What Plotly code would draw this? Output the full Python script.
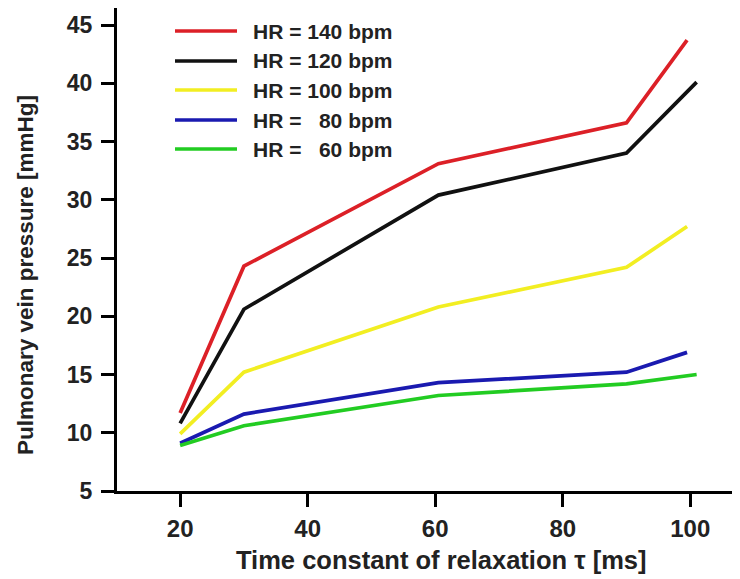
import plotly.graph_objects as go

# Data
tau_140 = [20, 30, 60.5, 90, 99.5]
hr140 = [11.7, 24.3, 33.1, 36.6, 43.7]
tau_120 = [20, 30, 60.5, 90, 101]
hr120 = [10.8, 20.6, 30.4, 34.0, 40.1]
tau_100 = [20, 30, 60.5, 90, 99.5]
hr100 = [9.9, 15.2, 20.8, 24.2, 27.7]
tau_80 = [20, 30, 60.5, 90, 99.5]
hr80 = [9.1, 11.6, 14.3, 15.2, 16.9]
tau_60 = [20, 30, 60.5, 90, 101]
hr60 = [8.9, 10.6, 13.2, 14.2, 15.0]

labels = ["HR = 140 bpm", "HR = 120 bpm", "HR = 100 bpm", "HR = \u200780 bpm", "HR = \u200760 bpm"]
colors = ["#dc2027", "#111111", "#f2ee22", "#1a1ab0", "#22cc22"]
xs = [tau_140, tau_120, tau_100, tau_80, tau_60]
ys = [hr140, hr120, hr100, hr80, hr60]

x_ticks = [20, 40, 60, 80, 100]
y_ticks = [5, 10, 15, 20, 25, 30, 35, 40, 45]
x_title = "Time constant of relaxation τ [ms]"
y_title = "Pulmonary vein pressure [mmHg]"

FONT = "Liberation Sans, Arial, sans-serif"
TXT = "#222222"

fig = go.Figure()
for x, y, c, name in zip(xs, ys, colors, labels):
    fig.add_trace(go.Scatter(x=x, y=y, mode="lines", name=name,
                             line=dict(color=c, width=3.7)))

# figure is offset by the page's 8px body margin
OFF = 8
W, H = 740 - OFF, 579 - OFF
l, r, t, b = 117 - OFF, 0, 0, 88
pw, ph = W - l - r, H - t - b


def px_x(page_x):
    return (page_x - OFF - l) / pw


def px_y(page_y):
    return 1 - (page_y - OFF - t) / ph


# Manual legend (paper coordinates)
leg_y = [31, 61, 90, 120, 149]
for yy, c, name in zip(leg_y, colors, labels):
    yp = px_y(yy)
    fig.add_shape(type="line", xref="paper", yref="paper",
                  x0=px_x(175), x1=px_x(237), y0=yp, y1=yp,
                  line=dict(color=c, width=3.7))
    fig.add_annotation(xref="paper", yref="paper", x=px_x(251), y=yp,
                       text=name, showarrow=False, xanchor="left", yanchor="middle",
                       font=dict(family=FONT, size=21, color=TXT, weight="bold"))

# Axis titles as annotations (positioned as in the reference)
fig.add_annotation(xref="paper", yref="paper", x=px_x(441), y=px_y(560),
                   text=x_title, showarrow=False, xanchor="center", yanchor="middle",
                   font=dict(family=FONT, size=25.5, color=TXT, weight="bold"))
fig.add_annotation(xref="paper", yref="paper", x=px_x(25), y=px_y(275),
                   text=y_title, showarrow=False, xanchor="center", yanchor="middle",
                   textangle=-90,
                   font=dict(family=FONT, size=22.5, color=TXT, weight="bold"))

fig.update_layout(
    width=W, height=H,
    margin=dict(l=l, r=r, t=t, b=b),
    paper_bgcolor="white", plot_bgcolor="white",
    showlegend=False,
    font=dict(family=FONT, color=TXT, weight="bold"),
)
fig.update_xaxes(
    range=[10.1, 107.8], tickvals=x_ticks, ticktext=[str(v) for v in x_ticks],
    showgrid=False, zeroline=False, showline=True, linecolor="black", linewidth=3,
    ticks="outside", ticklen=13, tickwidth=3, tickcolor="black",
    ticklabelstandoff=1,
    tickfont=dict(family=FONT, size=24, color=TXT, weight="bold"),
    automargin=False,
)
fig.update_yaxes(
    range=[5, 46.46], tickvals=y_ticks, ticktext=[str(v) for v in y_ticks],
    showgrid=False, zeroline=False, showline=True, linecolor="black", linewidth=3,
    ticks="outside", ticklen=13, tickwidth=3, tickcolor="black",
    ticklabelstandoff=4,
    tickfont=dict(family=FONT, size=23, color=TXT, weight="bold"),
    automargin=False,
)

fig.write_html("out.html")
